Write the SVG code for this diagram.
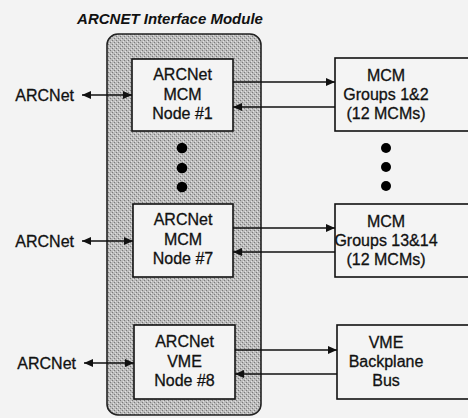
<svg xmlns="http://www.w3.org/2000/svg" width="468" height="418" viewBox="0 0 468 418">
<style>
  .bg { fill: #f3f3f3; }
  .box { fill: #f4f4f4; stroke: #111; stroke-width: 1.6; }
  .module { stroke: #222; stroke-width: 1.6; }
  .t { font-family: "Liberation Sans", Arial, sans-serif; font-size: 16px; fill: #111; stroke: #111; stroke-width: 0.3; text-anchor: middle; }
  .lbl { font-family: "Liberation Sans", Arial, sans-serif; font-size: 16px; fill: #111; stroke: #111; stroke-width: 0.3; text-anchor: end; }
  .title { font-family: "Liberation Sans", Arial, sans-serif; font-size: 15px; font-weight: bold; font-style: italic; fill: #111; text-anchor: middle; }
  .ln { stroke: #111; stroke-width: 1.5; fill: none; }
  .dot { fill: #000; }
</style>
<defs>
  <pattern id="stip" width="4" height="4" patternUnits="userSpaceOnUse">
    <rect width="4" height="4" fill="#bcbcbc"/>
    <rect x="0" y="0" width="1" height="1" fill="#7a7a7a"/>
    <rect x="2" y="2" width="1" height="1" fill="#7a7a7a"/>
    <rect x="1" y="3" width="1" height="1" fill="#e2e2e2"/>
    <rect x="3" y="1" width="1" height="1" fill="#e2e2e2"/>
  </pattern>
  <marker id="ah" markerWidth="9" markerHeight="8" refX="9" refY="4" orient="auto-start-reverse" markerUnits="userSpaceOnUse">
    <path d="M0,0 L9,4 L0,8 Z" fill="#111"/>
  </marker>
</defs>
<rect class="bg" x="0" y="0" width="468" height="418"/>
<text class="title" x="170" y="24">ARCNET Interface Module</text>

<g id="module">
  <rect class="module" x="107" y="34" width="154" height="381" rx="11" fill="url(#stip)"/>
</g>

<g id="node1">
  <rect class="box" x="132" y="59" width="101" height="72"/>
  <text class="t" x="182.5" y="80">ARCNet</text>
  <text class="t" x="182.5" y="100">MCM</text>
  <text class="t" x="182.5" y="119">Node #1</text>
</g>
<g id="node7">
  <rect class="box" x="133" y="204" width="100" height="73"/>
  <text class="t" x="183" y="225">ARCNet</text>
  <text class="t" x="183" y="245">MCM</text>
  <text class="t" x="183" y="264">Node #7</text>
</g>
<g id="node8">
  <rect class="box" x="134" y="325" width="101" height="74"/>
  <text class="t" x="184.5" y="347">ARCNet</text>
  <text class="t" x="184.5" y="367">VME</text>
  <text class="t" x="184.5" y="386">Node #8</text>
</g>

<g id="mcm12">
  <rect class="box" x="335" y="58" width="140" height="73"/>
  <text class="t" x="386" y="81">MCM</text>
  <text class="t" x="386" y="100">Groups 1&amp;2</text>
  <text class="t" x="386" y="119">(12 MCMs)</text>
</g>
<g id="mcm1314">
  <rect class="box" x="335" y="204" width="140" height="73"/>
  <text class="t" x="386" y="227">MCM</text>
  <text class="t" x="386" y="246">Groups 13&amp;14</text>
  <text class="t" x="386" y="265">(12 MCMs)</text>
</g>
<g id="vme">
  <rect class="box" x="337" y="325" width="140" height="74"/>
  <text class="t" x="386" y="348">VME</text>
  <text class="t" x="386" y="367">Backplane</text>
  <text class="t" x="386" y="386">Bus</text>
</g>

<g id="ext1"><text class="lbl" x="74" y="101">ARCNet</text></g>
<g id="ext7"><text class="lbl" x="74" y="247">ARCNet</text></g>
<g id="ext8"><text class="lbl" x="76" y="369">ARCNet</text></g>

<g id="dots">
  <circle class="dot" cx="182" cy="148" r="5.3"/>
  <circle class="dot" cx="182" cy="168" r="5.3"/>
  <circle class="dot" cx="182" cy="187" r="5.3"/>
  <circle class="dot" cx="386" cy="148" r="5"/>
  <circle class="dot" cx="386" cy="167" r="5"/>
  <circle class="dot" cx="386" cy="186" r="5"/>
</g>

<g id="connectors">
  <line class="ln" x1="82" y1="95" x2="132" y2="95" marker-start="url(#ah)" marker-end="url(#ah)"/>
  <line class="ln" x1="82" y1="241" x2="133" y2="241" marker-start="url(#ah)" marker-end="url(#ah)"/>
  <line class="ln" x1="84" y1="363" x2="134" y2="363" marker-start="url(#ah)" marker-end="url(#ah)"/>
  <line class="ln" x1="233" y1="82" x2="335" y2="82" marker-end="url(#ah)"/>
  <line class="ln" x1="335" y1="107" x2="233" y2="107" marker-end="url(#ah)"/>
  <line class="ln" x1="233" y1="228" x2="335" y2="228" marker-end="url(#ah)"/>
  <line class="ln" x1="335" y1="252" x2="233" y2="252" marker-end="url(#ah)"/>
  <line class="ln" x1="235" y1="350" x2="337" y2="350" marker-end="url(#ah)"/>
  <line class="ln" x1="337" y1="374" x2="235" y2="374" marker-end="url(#ah)"/>
</g>
</svg>
